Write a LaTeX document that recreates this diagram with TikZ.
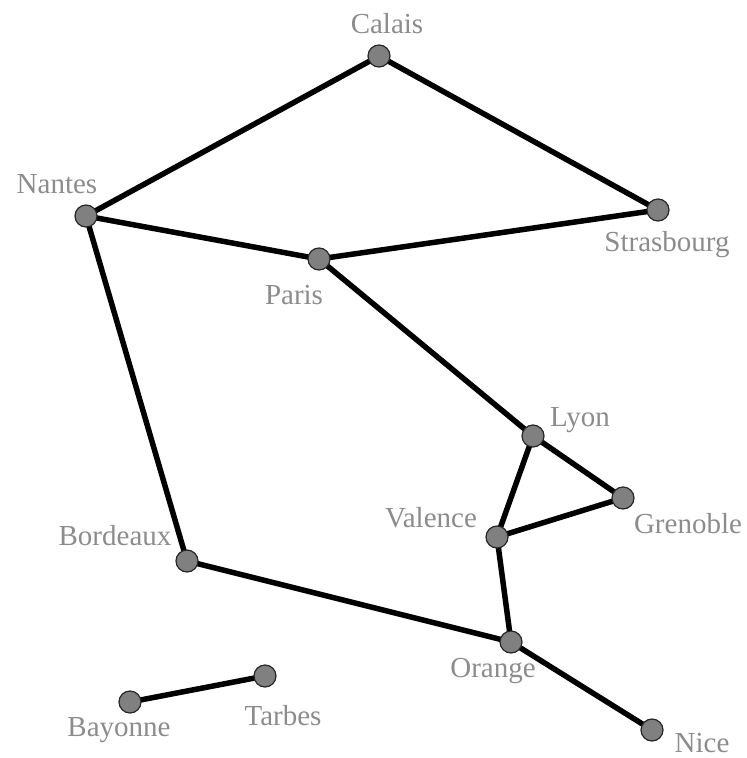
\documentclass[tikz,border=0pt]{standalone}
\usepackage{fontspec}
\setmainfont{Liberation Serif}
\usetikzlibrary{backgrounds}
\definecolor{nodegray}{HTML}{808080}
\definecolor{labelgray}{HTML}{8C8C8C}
\begin{document}
\begin{tikzpicture}[x=1pt,y=-1pt,
  city/.style={circle,fill=nodegray,draw=black!85,line width=1.2pt,minimum size=22pt,inner sep=0pt},
  lbl/.style={anchor=base,text=labelgray,font=\fontsize{29}{30}\selectfont,inner sep=0pt},
  road/.style={line width=5.5pt,black}]
\useasboundingbox (0,0) rectangle (747,758);
\node[city] (calais) at (379,56) {};
\node[city] (nantes) at (86,216) {};
\node[city] (stras) at (658,210) {};
\node[city] (paris) at (319,259) {};
\node[city] (lyon) at (533,436) {};
\node[city] (gren) at (623,498) {};
\node[city] (val) at (497,537) {};
\node[city] (bord) at (187,561) {};
\node[city] (orange) at (511,642) {};
\node[city] (nice) at (652,730) {};
\node[city] (bay) at (130,702) {};
\node[city] (tarbes) at (265,676) {};
\node[lbl] (lcalais) at (387,33) {Calais};
\node[lbl] (lnantes) at (57,193) {Nantes};
\node[lbl] (lstras) at (667,251) {Strasbourg};
\node[lbl] (lparis) at (294,304) {Paris};
\node[lbl] (llyon) at (580,426) {Lyon};
\node[lbl] (lgren) at (688,533) {Grenoble};
\node[lbl] (lval) at (431,527) {Valence};
\node[lbl] (lbord) at (115,545) {Bordeaux};
\node[lbl] (lorange) at (493,677) {Orange};
\node[lbl] (lnice) at (702,752) {Nice};
\node[lbl] (lbay) at (119,736) {Bayonne};
\node[lbl] (ltarbes) at (283,725) {Tarbes};
\begin{scope}[on background layer]
\draw[road] (calais.center) -- (nantes.center);
\draw[road] (calais.center) -- (stras.center);
\draw[road] (nantes.center) -- (paris.center);
\draw[road] (paris.center) -- (stras.center);
\draw[road] (nantes.center) -- (bord.center);
\draw[road] (paris.center) -- (lyon.center);
\draw[road] (lyon.center) -- (val.center);
\draw[road] (lyon.center) -- (gren.center);
\draw[road] (gren.center) -- (val.center);
\draw[road] (val.center) -- (orange.center);
\draw[road] (bord.center) -- (orange.center);
\draw[road] (orange.center) -- (nice.center);
\draw[road] (bay.center) -- (tarbes.center);
\end{scope}
\end{tikzpicture}
\end{document}
